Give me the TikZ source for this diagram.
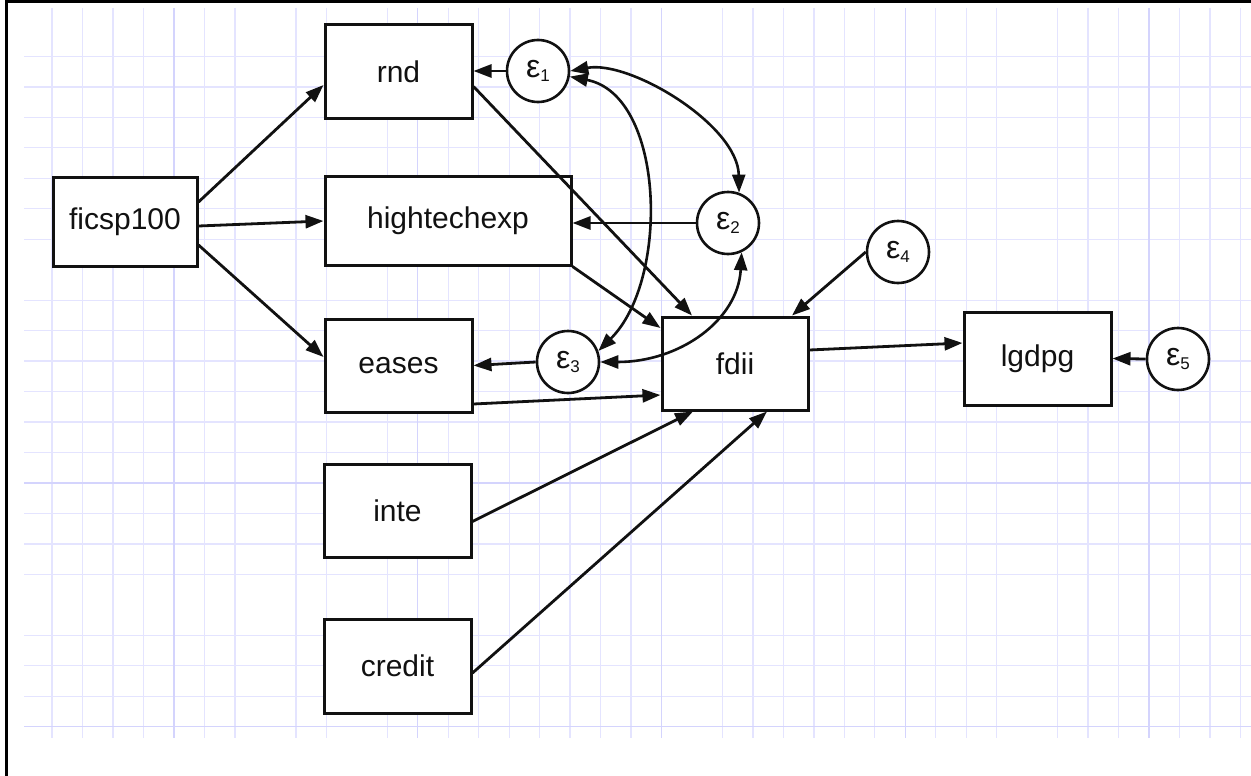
\documentclass[tikz,border=0pt]{standalone}
\usepackage{fontspec}
\setmainfont{Liberation Sans}
\usetikzlibrary{arrows.meta,calc}
\definecolor{gridminor}{RGB}{228,228,255}
\definecolor{gridmajor}{RGB}{212,212,253}
\definecolor{ink}{RGB}{17,17,17}
\newcommand\epsl[1]{{\fontsize{32}{36}\selectfont ε}\raisebox{-3.5pt}{\fontsize{17}{17}\selectfont #1}}
\tikzset{
  var/.style={draw=ink, line width=3pt, fill=white, minimum width=147pt, minimum height=93pt, inner sep=0pt, text=ink, font=\fontsize{30}{36}\selectfont},
  err/.style={draw=ink, circle, line width=2.6pt, fill=white, minimum size=62pt, inner sep=0pt, text=ink, font=\fontsize{30}{36}\selectfont},
  arr/.style={draw=ink, line width=2.8pt, -{Triangle[length=18pt,width=13pt]}},
  covarr/.style={draw=ink, line width=2.6pt, {Triangle[length=18pt,width=13pt]}-{Triangle[length=18pt,width=13pt]}},
  gminor/.style={draw=gridminor, line width=1.3pt},
  gmajor/.style={draw=gridmajor, line width=1.3pt},
}
\begin{document}
\begin{tikzpicture}[x=1pt,y=-1pt]
\useasboundingbox (0,0) rectangle (1251,776);
\fill[white] (0,0) rectangle (1251,776);
% grid
\foreach \k in {0,...,3,5,6,8,9,11,13,14,15,16,17,18,19,22,23,24,25,26,27,29,30,31,33,34,35,37,38,39}
  \draw[gminor] ({52.1+30.47*\k},8) -- ({52.1+30.47*\k},738);
\foreach \j in {0,...,6,8,9,10,11,12,13,15,16,17,19,20,21}
  \draw[gminor] (24,{56.4+30.47*\j}) -- (1251,{56.4+30.47*\j});
\foreach \k in {4,12,20,28,36}
  \draw[gmajor] ({52.1+30.47*\k},8) -- ({52.1+30.47*\k},738);
\foreach \j in {14,22}
  \draw[gmajor] (24,{56.4+30.47*\j}) -- (1251,{56.4+30.47*\j});
% frame
\draw[black, line width=3pt] (6.5,776) -- (6.5,1.5) -- (1251,1.5);
% nodes
\node[var, minimum width=144pt, minimum height=89pt] (ficsp) at (125,221.5) {ficsp100};
\node[var] (rnd) at (398.5,71.5) {rnd};
\node[var, minimum width=246pt, minimum height=89pt] (htech) at (448,220.5) {hightechexp};
\node[var] (eases) at (398.5,365.5) {eases};
\node[var] (inte) at (397.5,510.5) {inte};
\node[var, minimum height=94pt] (credit) at (397.5,666) {credit};
\node[var, minimum width=146pt] (fdii) at (735,363.5) {fdii};
\node[var] (lgdpg) at (1037.5,358.5) {lgdpg};
\node[err] (e1) at (538,71) {\epsl{1}};
\node[err] (e2) at (728,223) {\epsl{2}};
\node[err] (e3) at (568,362) {\epsl{3}};
\node[err] (e4) at (898,252) {\epsl{4}};
\node[err] (e5) at (1178,359) {\epsl{5}};
% paths
\draw[arr] ($(ficsp.east)+(0,-19.5)$) -- ($(rnd.west)+(0,13.5)$);
\draw[arr] ($(ficsp.east)+(0,4.5)$) -- ($(htech.west)+(0,0.5)$);
\draw[arr] ($(ficsp.east)+(0,23.5)$) -- ($(eases.west)+(0,-8.5)$);
\draw[arr] (e1.west) -- (e1.west -| rnd.east);
\draw[arr] ($(rnd.east)+(0,15)$) -- ($(fdii.north)+(-43,0)$);
\draw[arr] (htech.south east) -- ($(fdii.west)+(0,-35.5)$);
\draw[arr] (e2.west) -- (e2.west -| htech.east);
\draw[arr] (e3.west) -- (eases.east);
\draw[arr] ($(eases.east)+(0,38.5)$) -- ($(fdii.west)+(0,31.5)$);
\draw[arr] ($(inte.east)+(0,11)$) -- ($(fdii.south)+(-42,0)$);
\draw[arr] ($(credit.east)+(0,7)$) -- ($(fdii.south)+(32,0)$);
\draw[arr] (e4.west) -- ($(fdii.north)+(57,0)$);
\draw[arr] ($(fdii.east)+(0,-13.5)$) -- ($(lgdpg.west)+(0,-15.5)$);
\draw[arr] (e5.west) -- (lgdpg.east);
% covariances
\draw[covarr] (e1.east) .. controls (630,60) and (738,125) .. (e2.70);
\draw[covarr] (e1.-10) .. controls (665,95) and (670,280) .. (e3.20);
\draw[covarr] (e2.-65) .. controls (738,320) and (680,362) .. (e3.east);
\end{tikzpicture}
\end{document}
